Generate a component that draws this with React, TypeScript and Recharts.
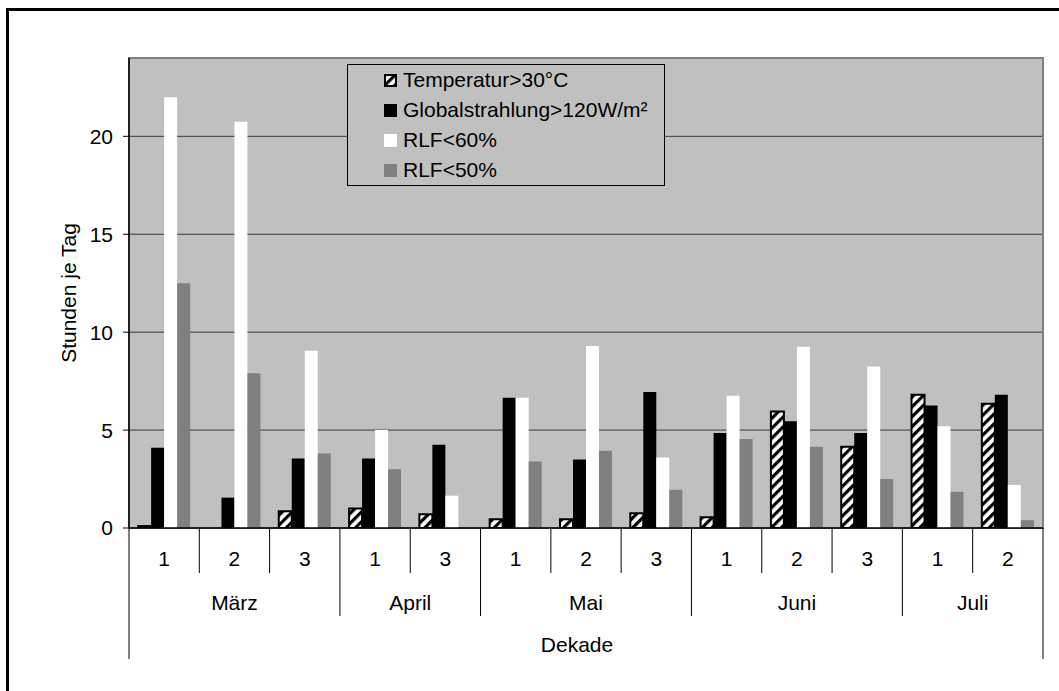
import { BarChart, Bar, XAxis, YAxis, CartesianGrid, Legend, ReferenceArea } from 'recharts'

// decades (x categories) and the month each one belongs to
const decades = ['1', '2', '3', '1', '3', '1', '2', '3', '1', '2', '3', '1', '2']
const months = ['März', 'März', 'März', 'April', 'April', 'Mai', 'Mai', 'Mai', 'Juni', 'Juni', 'Juni', 'Juli', 'Juli']

// hours per day
const temperatur = [0.1, 0, 0.85, 1.0, 0.7, 0.45, 0.45, 0.75, 0.55, 5.95, 4.15, 6.8, 6.35]
const globalstrahlung = [4.1, 1.55, 3.55, 3.55, 4.25, 6.65, 3.5, 6.95, 4.85, 5.45, 4.85, 6.25, 6.8]
const rlf60 = [22.0, 20.75, 9.05, 5.0, 1.65, 6.65, 9.3, 3.6, 6.75, 9.25, 8.25, 5.2, 2.2]
const rlf50 = [12.5, 7.9, 3.8, 3.0, 0, 3.4, 3.95, 1.95, 4.55, 4.15, 2.5, 1.85, 0.4]

const yTicks = [0, 5, 10, 15, 20]

const series = [
  { key: 'temp', name: 'Temperatur>30°C', fill: 'url(#hatch)', stroke: '#000' },
  { key: 'glob', name: 'Globalstrahlung>120W/m²', fill: '#000', stroke: '#000' },
  { key: 'rlf60', name: 'RLF<60%', fill: '#fff', stroke: 'none' },
  { key: 'rlf50', name: 'RLF<50%', fill: '#808080', stroke: 'none' },
]

const data = decades.map((d, i) => ({
  key: `${months[i]}-${d}`,
  decade: d,
  month: months[i],
  temp: temperatur[i],
  glob: globalstrahlung[i],
  rlf60: rlf60[i],
  rlf50: rlf50[i],
}))

const W = 1059
const H = 691
const Y_AXIS_W = 60
const MARGIN = { top: 58, right: 16, bottom: 23, left: 69 }
const X_AXIS_H = 140
const PLOT_W = W - MARGIN.left - Y_AXIS_W - MARGIN.right

const FONT = '"Liberation Sans", Arial, sans-serif'

function DecadeTick(props: any) {
  const { x, y, payload } = props
  const i = payload.index
  const band = PLOT_W / data.length
  const left = x - band / 2
  const newMonth = i === 0 || months[i] !== months[i - 1]
  const len = i === 0 ? 131 : newMonth ? 88 : 45
  const last = i === data.length - 1
  let monthLabel = null
  if (newMonth) {
    const count = months.filter((m) => m === months[i]).length
    monthLabel = (
      <text x={left + (count * band) / 2} y={y + 82} textAnchor="middle" fontSize={21} fill="#000">
        {months[i]}
      </text>
    )
  }
  return (
    <g>
      <line x1={left} x2={left} y1={y} y2={y + len} stroke="#000" strokeWidth={1} />
      {last && <line x1={left + band} x2={left + band} y1={y} y2={y + 131} stroke="#000" strokeWidth={1} />}
      <text x={x} y={y + 38} textAnchor="middle" fontSize={21} fill="#000">
        {data[i].decade}
      </text>
      {monthLabel}
      {i === 0 && (
        <text x={left + PLOT_W / 2 - 9} y={y + 124} textAnchor="middle" fontSize={21} fill="#000">
          Dekade
        </text>
      )}
    </g>
  )
}

function YLabel(props: any) {
  const vb = props.viewBox
  const cx = vb.x - 1
  const cy = vb.y + vb.height / 2
  return (
    <text x={cx} y={cy} transform={`rotate(-90 ${cx} ${cy})`} textAnchor="middle" dominantBaseline="central" fontSize={21} fill="#000">
      Stunden je Tag
    </text>
  )
}

function LegendBox() {
  return (
    <div style={{ width: 316, border: '1px solid #000', background: '#c0c0c0', fontFamily: FONT }}>
      {series.map((s) => (
        <div key={s.key} style={{ display: 'flex', alignItems: 'center', height: 30, marginLeft: 36 }}>
          <svg width={13} height={13} style={{ display: 'block' }}>
            <rect x={s.stroke === 'none' ? 0 : 1} y={s.stroke === 'none' ? 0 : 1} width={s.stroke === 'none' ? 13 : 11} height={s.stroke === 'none' ? 13 : 11} fill={s.fill} stroke={s.stroke} strokeWidth={2} />
          </svg>
          <span style={{ marginLeft: 6, fontSize: 21, lineHeight: '30px', color: '#000', whiteSpace: 'nowrap' }}>{s.name}</span>
        </div>
      ))}
    </div>
  )
}

export default function App() {
  return (
    <div style={{ position: 'fixed', left: 0, top: 0, width: W, height: H, overflow: 'hidden', background: '#fff', fontFamily: FONT }}>
      <svg width={0} height={0} style={{ position: 'absolute' }}>
        <defs>
          <pattern id="hatch" patternUnits="userSpaceOnUse" width={7} height={7} patternTransform="rotate(45)">
            <rect x={0} y={0} width={7} height={7} fill="#fff" />
            <rect x={0} y={0} width={3.2} height={7} fill="#000" />
          </pattern>
        </defs>
      </svg>
      <div style={{ position: 'absolute', left: 6, top: 8, width: W + 40, height: H + 40, border: '3px solid #000' }} />
      <div style={{ position: 'absolute', left: 0, top: 0 }}>
        <BarChart width={W} height={H} data={data} margin={MARGIN} barCategoryGap="13%" barGap={0}>
          <CartesianGrid vertical={false} fill="#c0c0c0" fillOpacity={1} stroke="#3a3a3a" strokeWidth={1} />
          <ReferenceArea y1={0} y2={24} fill="none" stroke="#808080" strokeWidth={2} ifOverflow="visible" />
          <XAxis
            dataKey="key"
            interval={0}
            height={X_AXIS_H}
            tickLine={false}
            tickSize={0}
            tickMargin={0}
            axisLine={{ stroke: '#000', strokeWidth: 1.5 }}
            tick={<DecadeTick />}
          />
          <YAxis
            width={Y_AXIS_W}
            domain={[0, 24]}
            ticks={yTicks}
            allowDataOverflow
            tickSize={6}
            tickMargin={10}
            tickLine={{ stroke: '#000' }}
            axisLine={{ stroke: '#000', strokeWidth: 1.5 }}
            tick={{ fontSize: 21, fill: '#000' }}
            label={<YLabel />}
          />
          <Legend
            layout="vertical"
            align="center"
            verticalAlign="middle"
            wrapperStyle={{ left: 347, top: 64, width: 318 }}
            content={<LegendBox />}
          />
          {series.map((s) => (
            <Bar
              key={s.key}
              dataKey={s.key}
              name={s.name}
              fill={s.fill}
              stroke={s.stroke}
              strokeWidth={s.key === 'temp' ? 2 : 0}
              isAnimationActive={false}
            />
          ))}
        </BarChart>
      </div>
    </div>
  )
}
